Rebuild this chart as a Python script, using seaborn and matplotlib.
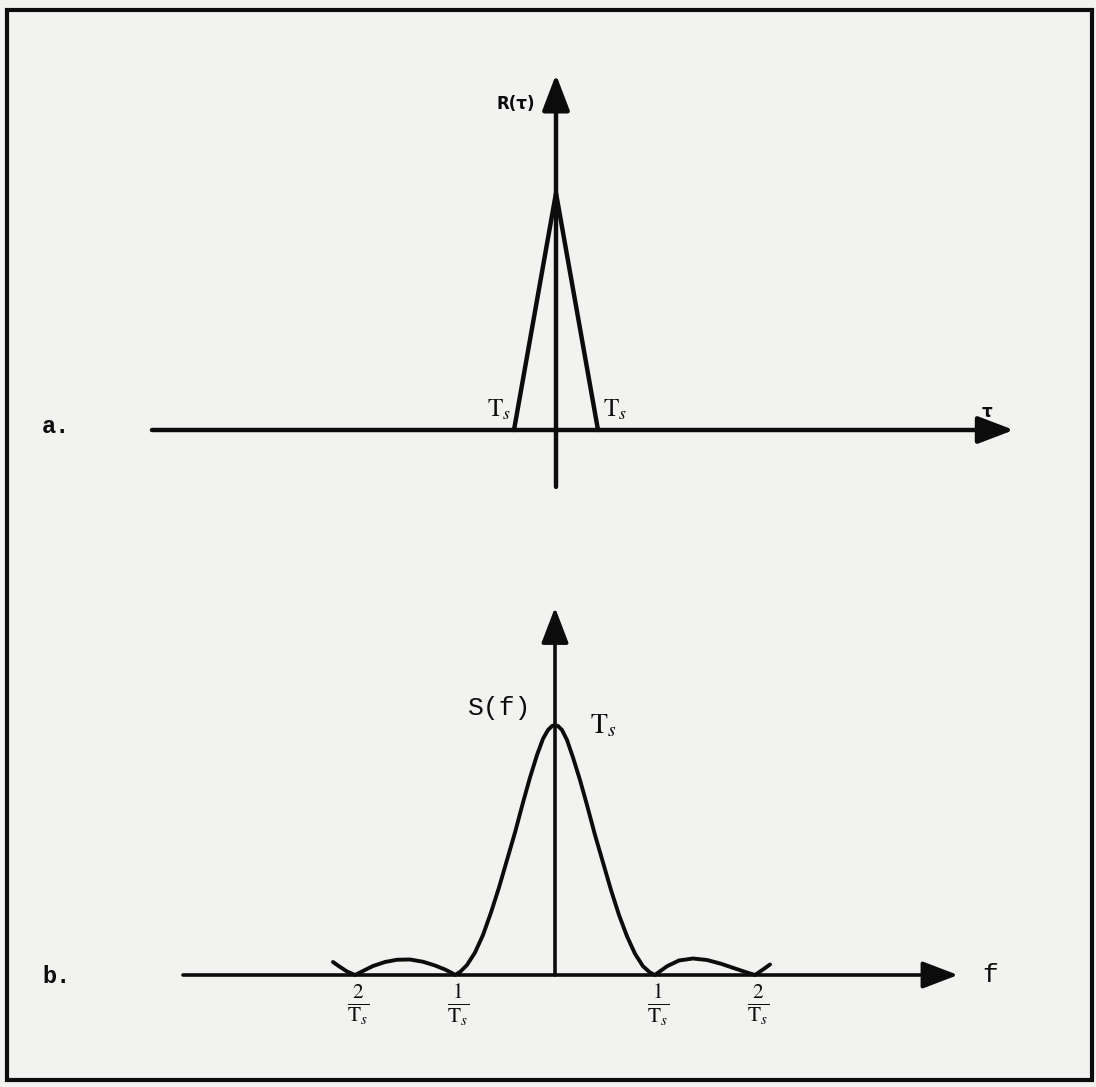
import matplotlib
matplotlib.use("Agg")
import matplotlib.pyplot as plt
import pandas as pd
import seaborn as sns
from matplotlib.patches import Rectangle

# Panel a: triangular autocorrelation R(tau), tau in units of T_s
tau = [-1.0, 0.0, 1.0]
r_tau = [0.0, 1.0, 0.0]

# Panel b: power spectrum S(f), f in units of 1/T_s, S normalised to T_s
freq = [-2.22, -2.16, -2.08, -2.0, -1.92, -1.82, -1.7, -1.58, -1.45, -1.32,
        -1.2, -1.1, -1.03, -1.0, -0.95, -0.88, -0.8, -0.72, -0.64, -0.56,
        -0.48, -0.4, -0.32, -0.25, -0.18, -0.12, -0.07, -0.03, 0.0,
        0.03, 0.07, 0.12, 0.18, 0.25, 0.32, 0.4, 0.48, 0.56, 0.64,
        0.72, 0.8, 0.88, 0.95, 1.0, 1.04, 1.12, 1.24, 1.38, 1.52,
        1.66, 1.8, 1.92, 2.0, 2.08, 2.15]
s_f = [0.052, 0.035, 0.014, 0.0, 0.016, 0.036, 0.052, 0.061, 0.062, 0.053,
       0.038, 0.022, 0.008, 0.0, 0.012, 0.04, 0.09, 0.16, 0.25, 0.35,
       0.46, 0.57, 0.69, 0.79, 0.88, 0.945, 0.98, 0.996, 1.0,
       0.996, 0.98, 0.94, 0.87, 0.78, 0.68, 0.56, 0.45, 0.34, 0.24,
       0.155, 0.085, 0.035, 0.01, 0.0, 0.012, 0.035, 0.058, 0.066, 0.06,
       0.045, 0.026, 0.01, 0.0, 0.022, 0.042]

freq_ticks = [-2, -1, 1, 2]
freq_tick_labels = [r"$\frac{2}{\mathrm{T}_s}$", r"$\frac{1}{\mathrm{T}_s}$",
                    r"$\frac{1}{\mathrm{T}_s}$", r"$\frac{2}{\mathrm{T}_s}$"]

sns.set_theme(style="white")
plt.rcParams["font.family"] = ["DejaVu Sans"]
plt.rcParams["mathtext.fontset"] = "stix"

W, H = 1096, 1087
PAPER = "#f2f2f1"
INK = "#0c0c0c"
fig = plt.figure(figsize=(W / 100, H / 100), dpi=100, facecolor=PAPER)


def panel_axes(top_px, bottom_px, x0, xs, y0, ys):
    """Axes spanning a horizontal band of the figure with a linear pixel scale."""
    ax = fig.add_axes([0, 1 - bottom_px / H, 1, (bottom_px - top_px) / H])
    ax.set_xlim((0 - x0) / xs, (W - x0) / xs)
    ax.set_ylim((y0 - bottom_px) / ys, (y0 - top_px) / ys)
    ax.set_facecolor("none")
    ax.axis("off")
    return ax


def arrow_axis(ax, start, tip, lw=3.2):
    ax.annotate("", xy=tip, xytext=start,
                arrowprops=dict(arrowstyle="-|>,head_length=1.1,head_width=0.42",
                                lw=lw, color=INK, mutation_scale=20,
                                shrinkA=0, shrinkB=0))


# ---------------- panel a ----------------
ax_a = panel_axes(0, 540, 556, 42, 430, 237)
arrow_axis(ax_a, (-9.62, 0), (10.9, 0))
arrow_axis(ax_a, (0, -0.24), (0, 1.5))
df_a = pd.DataFrame({"tau": tau, "R": r_tau})
sns.lineplot(data=df_a, x="tau", y="R", ax=ax_a, color=INK, lw=3.2,
             sort=False, estimator=None, legend=False)
ax_a.text(-0.95, 1.376, "R(τ)", fontsize=12, fontweight="bold",
          ha="center", va="center", color=INK)
ax_a.text(-1.35, 0.085, r"$\mathrm{T}_s$", fontsize=18, ha="center", va="center", color=INK)
ax_a.text(1.4, 0.085, r"$\mathrm{T}_s$", fontsize=18, ha="center", va="center", color=INK)
ax_a.text(10.25, 0.075, "τ", fontsize=12, fontweight="bold",
          ha="center", va="center", color=INK)
ax_a.text(-11.9, 0.015, "a.", fontsize=17, fontweight="bold",
          family="Liberation Mono", ha="center", va="center", color=INK)

# ---------------- panel b ----------------
ax_b = panel_axes(540, H, 555, 100, 975, 250)
arrow_axis(ax_b, (-3.72, 0), (4.03, 0), lw=2.6)
arrow_axis(ax_b, (0, 0), (0, 1.47), lw=2.6)
df_b = pd.DataFrame({"f": freq, "S": s_f})
sns.lineplot(data=df_b, x="f", y="S", ax=ax_b, color=INK, lw=2.8,
             sort=False, estimator=None, legend=False)
ax_b.text(-0.55, 1.07, "S(f)", fontsize=19, family="Liberation Mono",
          ha="center", va="center", color=INK)
ax_b.text(0.48, 1.0, r"$\mathrm{T}_s$", fontsize=20, ha="center", va="center", color=INK)
ax_b.text(4.35, 0.0, "f", fontsize=19, family="Liberation Mono",
          ha="center", va="center", color=INK)
ax_b.text(-4.99, -0.005, "b.", fontsize=17, fontweight="bold",
          family="Liberation Mono", ha="center", va="center", color=INK)
for pos, lab in zip(freq_ticks, freq_tick_labels):
    ax_b.text(pos + 0.03, -0.03, lab, fontsize=22, ha="center", va="top", color=INK)

# frame round the whole figure
fig.add_artist(Rectangle((7 / W, 1 - 1080 / H), (1092 - 7) / W, (1080 - 10) / H,
                         transform=fig.transFigure, fill=False, lw=3, ec=INK))

fig.savefig("out.png", dpi=100, facecolor=PAPER)
